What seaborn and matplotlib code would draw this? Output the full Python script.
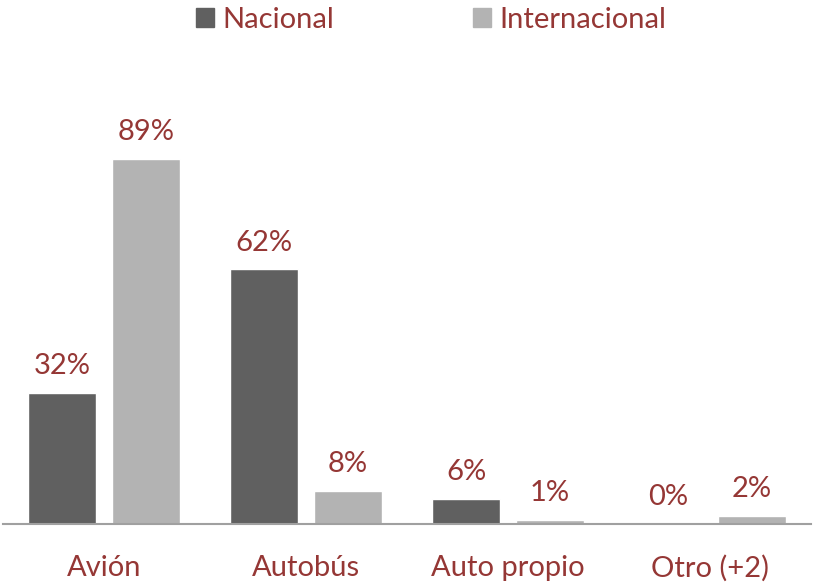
import pandas as pd
import matplotlib.pyplot as plt
import seaborn as sns

# -----------------------------
# Data
# -----------------------------
categorias = ["Avión", "Autobús", "Auto propio", "Otro (+2)"]
nacional = [32, 62, 6, 0]
internacional = [89, 8, 1, 2]
series = ["Nacional", "Internacional"]

df = pd.DataFrame({
    "Transporte": categorias * 2,
    "Tipo": [series[0]] * len(categorias) + [series[1]] * len(categorias),
    "Porcentaje": nacional + internacional,
})

text_color = "#953735"
colores = {"Nacional": "#606060", "Internacional": "#b3b3b3"}

sns.set_style("white")
plt.rcParams["font.family"] = ["Lato", "DejaVu Sans"]

fig = plt.figure(figsize=(8.13, 5.87), dpi=100)
ax = fig.add_axes([0.0037, 0.1073, 0.994, 0.7905])

sns.barplot(
    data=df,
    x="Transporte",
    y="Porcentaje",
    hue="Tipo",
    hue_order=series,
    order=categorias,
    palette=colores,
    width=0.83,
    gap=0.19,
    saturation=1,
    legend=False,
    ax=ax,
)

# value labels
for cont, vals in zip(ax.containers, [nacional, internacional]):
    ax.bar_label(cont, labels=[f"{v}%" for v in vals], padding=10,
                 fontsize=21, color=text_color)

ax.set_xlim(-0.5, 3.5)
ax.set_ylim(0, 113)
ax.set_xlabel("")
ax.set_ylabel("")
ax.set_yticks([])
ax.tick_params(axis="x", length=0, pad=22, labelsize=21, labelcolor=text_color)

for s in ["top", "right", "left"]:
    ax.spines[s].set_visible(False)
ax.spines["bottom"].set_color("#a0a0a0")
ax.spines["bottom"].set_linewidth(1.5)

# legend
handles = [plt.Rectangle((0, 0), 1, 1, color=colores[s]) for s in series]
leg = fig.legend(handles, series, loc="upper left", bbox_to_anchor=(193 / 813, 0.993),
                 ncol=2, frameon=False, fontsize=21, handlelength=0.62,
                 handleheight=0.62, handletextpad=0.3, columnspacing=4.75,
                 borderpad=0.1, borderaxespad=0)
for t in leg.get_texts():
    t.set_color(text_color)

plt.savefig("out.png", dpi=100)
plt.close()
